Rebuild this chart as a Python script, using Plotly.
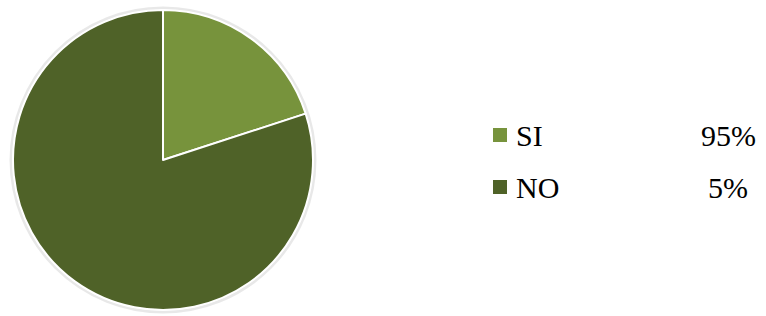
import plotly.graph_objects as go

# Data
labels = ["SI", "NO"]
slice_values = [20, 80]          # slice shares as drawn in the picture
legend_pct = ["95%", "5%"]       # percentages printed in the legend
colors = ["#77933C", "#4F6228"]

W, H = 766, 316

def px(x):
    return x / W

def py(y):
    return 1 - y / H

fig = go.Figure()
fig.add_trace(go.Pie(
    labels=labels,
    values=slice_values,
    marker=dict(colors=colors, line=dict(color="white", width=2)),
    sort=False,
    direction="clockwise",
    rotation=0,
    textinfo="none",
    hoverinfo="label+value",
    showlegend=False,
    domain=dict(x=[px(13), px(313)], y=[py(310), py(10)]),
))

font = dict(family="Liberation Serif, Times New Roman, serif", size=30, color="#000000")

# Manual legend layout
leg_sq_x = 493
leg_sq_size = 14
leg_text_x = 514
leg_pct_x = 728
leg_y0 = 135
leg_step = 52

shapes = [
    dict(type="circle", xref="paper", yref="paper",
         x0=px(11), x1=px(315), y0=py(312), y1=py(8),
         line=dict(color="rgba(0,0,0,0.09)", width=3), layer="below"),
]
annotations = []
for i, (lab, pct, col) in enumerate(zip(labels, legend_pct, colors)):
    yc = leg_y0 + i * leg_step
    shapes.append(dict(type="rect", xref="paper", yref="paper",
                       x0=px(leg_sq_x), x1=px(leg_sq_x + leg_sq_size),
                       y0=py(yc + leg_sq_size / 2), y1=py(yc - leg_sq_size / 2),
                       fillcolor=col, line=dict(width=0)))
    annotations.append(dict(text=lab, xref="paper", yref="paper",
                            x=px(leg_text_x), y=py(yc), xanchor="left", yanchor="middle",
                            showarrow=False, font=font))
    annotations.append(dict(text=pct, xref="paper", yref="paper",
                            x=px(leg_pct_x), y=py(yc), xanchor="center", yanchor="middle",
                            showarrow=False, font=font))

fig.update_layout(
    width=W, height=H,
    margin=dict(l=0, r=0, t=0, b=0),
    paper_bgcolor="white",
    plot_bgcolor="white",
    shapes=shapes,
    annotations=annotations,
)

fig.write_html("out.html", config={"displayModeBar": False},
               post_script="document.body.style.margin='0';document.body.style.overflow='hidden';")
